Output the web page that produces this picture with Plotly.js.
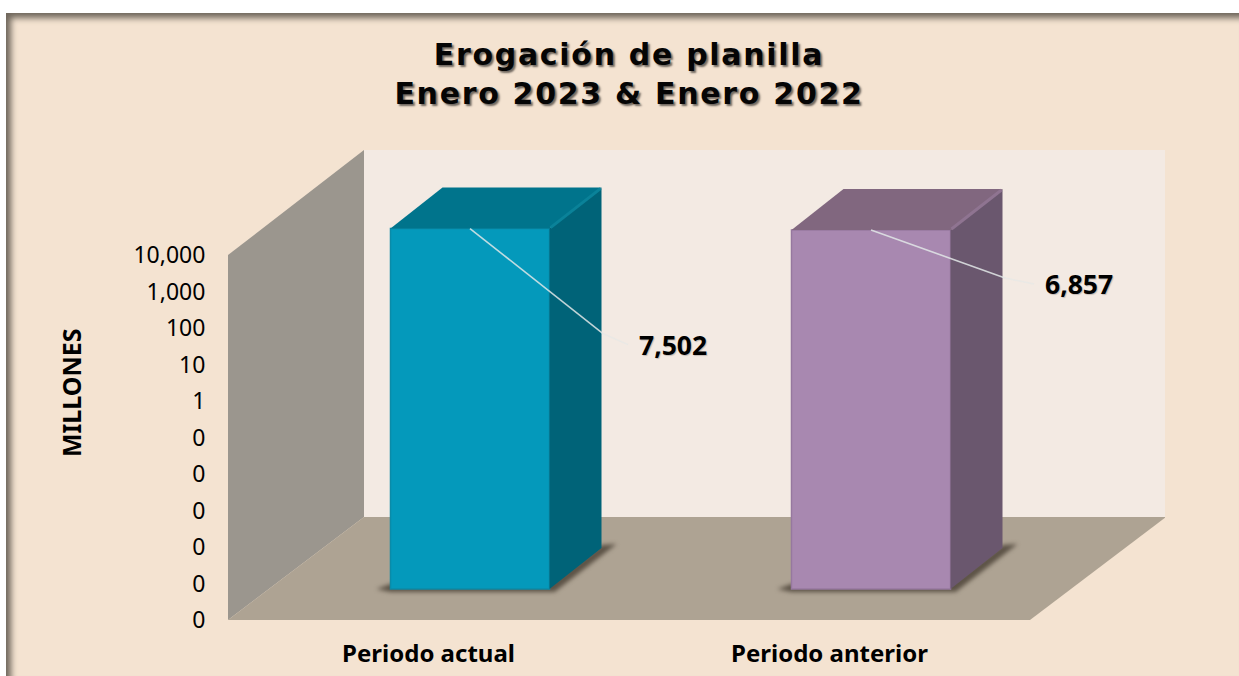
<!DOCTYPE html>
<html><head><meta charset="utf-8">
<script src="https://cdn.plot.ly/plotly-3.0.1.min.js"></script>
<style>
html,body{margin:0;padding:0;background:#fff;overflow:hidden}
#frame{position:absolute;left:6px;top:13px;width:1233px;height:663px;background:#F4E3D1;
 box-shadow:inset 6px 6px 6px -1px #6f675c;}
#plot{position:absolute;left:0;top:0;width:1239px;height:676px}
.gtitle{letter-spacing:1.7px}
.shapelayer > *:nth-child(n+4){filter:blur(2px)}
</style></head><body>
<div id="frame"></div><div id="plot"></div>
<script>
const categories = ['Periodo actual', 'Periodo anterior'];
const values = [7502, 6857];
const yTickValues = [1e-6, 1e-5, 1e-4, 1e-3, 1e-2, 1e-1, 1, 10, 100, 1000, 10000];
const yTickLabels = ['0', '0', '0', '0', '0', '0', '1', '10', '100', '1,000', '10,000'];
const frontColors = ['#0499BB', '#A888B0'];
const topColors = ['#00748C', '#81677F'];
const sideColors = ['#006378', '#6A576E'];
const edgeColors = ['#0B8BA8', '#96789F'];
const highlightColors = ['#0A8299', '#8F7491'];
const labelOffsets = [[167, 116], [172, 54]];
const leaderBends = [[133, 105], [134, 48]];

// px → axis units
const W = 1239, H = 676, L = 228, T = 150, B = 620, R = 1165;
const pxX = 1 / 401, pxY = 1 / 36.5;
const x0 = -0.5, y0 = -6;
const xRange = [x0, x0 + (R - L) * pxX], yRange = [y0, y0 + (B - T) * pxY];
const wallDx = 136 * pxX, wallDy = 103 * pxY, wallTopDy = 105 * pxY;
const frontDx = 41.5 * pxX, frontDy = 31 * pxY;
const barW = 159 * pxX, barDx = 52 * pxX, barDy = 41 * pxY;
const P = v => Math.pow(10, v);               // log-axis position → data value
const font = '"Noto Sans", sans-serif';

const path = pts => 'M' + pts.map(p => p[0] + ',' + P(p[1])).join('L') + 'Z';
const xEnd = x0 + 802 * pxX, yTop = 4;

const shapes = [
  {pts: [[x0 + wallDx, y0 + wallDy], [xEnd + wallDx, y0 + wallDy], [xEnd + wallDx, yTop + wallTopDy], [x0 + wallDx, yTop + wallTopDy]], c: '#F3EAE3'},
  {pts: [[x0, y0], [x0 + wallDx, y0 + wallDy], [x0 + wallDx, yTop + wallTopDy], [x0, yTop]], c: '#9B968E'},
  {pts: [[x0, y0], [xEnd, y0], [xEnd + wallDx, y0 + wallDy], [x0 + wallDx, y0 + wallDy]], c: '#AEA393'}
].map(s => ({type: 'path', xref: 'x', yref: 'y', layer: 'below', path: path(s.pts), fillcolor: s.c, line: {width: 0}}));

// soft floor shadow under each bar, derived from the bar's base position
categories.forEach((c, i) => {
  const xl = i + frontDx - barW / 2, yb = y0 + frontDy, xr = xl + barW;
  shapes.push({type: 'path', xref: 'x', yref: 'y', layer: 'below', opacity: 0.85, fillcolor: '#4d4438', line: {width: 0},
    path: path([
      [xl - 14 * pxX, yb], [xl, yb + 5 * pxY], [xr, yb + 5 * pxY], [xr + barDx, yb + barDy + 3 * pxY],
      [xr + barDx + 15 * pxX, yb + barDy + 4 * pxY], [xr + 5 * pxX, yb - 3 * pxY], [xl, yb - 3 * pxY]
    ])});
});

const traces = [{
  type: 'bar', x: categories.map((c, i) => i + frontDx),
  y: values.map(v => P(Math.log10(v) + frontDy) - P(y0 + frontDy)),
  base: categories.map(() => P(y0 + frontDy)), width: categories.map(() => barW),
  marker: {color: frontColors, line: {color: edgeColors, width: 1.5}}, hoverinfo: 'skip'
}];
const annotations = [];
values.forEach((v, i) => {
  const xl = i + frontDx - barW / 2, xr = xl + barW, yb = y0 + frontDy;
  const yt = Math.log10(v) + frontDy;
  const poly = (pts, color) => traces.push({type: 'scatter', mode: 'lines', x: pts.map(p => p[0]), y: pts.map(p => P(p[1])),
    fill: 'toself', fillcolor: color, line: {width: 0}, hoverinfo: 'skip', cliponaxis: false});
  poly([[xr, yb], [xr + barDx, yb + barDy], [xr + barDx, yt + barDy], [xr, yt]], sideColors[i]);
  poly([[xl, yt], [xr, yt], [xr + barDx, yt + barDy], [xl + barDx, yt + barDy]], topColors[i]);
  traces.push({type: 'scatter', mode: 'lines', x: [xr + 1 * pxX, xr + barDx - 1 * pxX], y: [P(yt + 1 * pxY), P(yt + barDy - 1 * pxY)],
    line: {color: highlightColors[i], width: 3}, hoverinfo: 'skip'});
  // leader line and label
  const cx = xl + barW / 2, off = labelOffsets[i], bend = leaderBends[i];
  const lx = cx + off[0] * pxX, ly = yt - off[1] * pxY;
  traces.push({type: 'scatter', mode: 'lines', x: [cx, cx + bend[0] * pxX], y: [P(yt), P(yt - bend[1] * pxY)],
    line: {color: 'rgba(226,232,232,0.85)', width: 1.6}, hoverinfo: 'skip'});
  traces.push({type: 'scatter', mode: 'lines', x: [cx + bend[0] * pxX, lx - 9 * pxX], y: [P(yt - bend[1] * pxY), P(ly)],
    line: {color: 'rgba(226,232,232,0.55)', width: 1.4}, hoverinfo: 'skip'});
  annotations.push({xref: 'x', yref: 'y', x: lx, y: ly, xanchor: 'left', yanchor: 'middle', showarrow: false,
    text: '<b>' + v.toLocaleString('en-US') + '</b>',
    font: {family: font, size: 26.5, color: '#000', shadow: '1px 1px 1px rgba(0,0,0,0.2)'}});
});
annotations.push({xref: 'paper', yref: 'paper', x: (71 - L) / (R - L), y: (B - 393) / (B - T), xanchor: 'center', yanchor: 'middle',
  showarrow: false, textangle: -90, text: '<b>MILLONES</b>', font: {family: font, size: 25, color: '#000'}});

const layout = {
  width: W, height: H, autosize: false, showlegend: false,
  paper_bgcolor: 'rgba(0,0,0,0)', plot_bgcolor: 'rgba(0,0,0,0)',
  margin: {l: L, r: W - R, t: T, b: H - B, pad: 0},
  barmode: 'overlay', shapes, annotations,
  title: {text: '<b>Erogación de planilla<br>Enero 2023 &amp; Enero 2022</b>', x: (629 - L) / (R - L), xanchor: 'center', xref: 'paper',
    y: 1 - 65 / H, yanchor: 'top',
    font: {family: '"DejaVu Sans", sans-serif', size: 30, color: '#050505', shadow: '2px 2px 2px rgba(0,0,0,0.55)'}},
  xaxis: {type: 'linear', range: xRange, tickmode: 'array', tickvals: categories.map((c, i) => i), ticktext: categories.map(c => '<b>' + c + '</b>'),
    showgrid: false, zeroline: false, showline: false, ticks: 'outside', ticklen: 12, tickcolor: 'rgba(0,0,0,0)',
    tickfont: {family: font, size: 24, color: '#000'}},
  yaxis: {type: 'log', range: yRange, tickmode: 'array', tickvals: yTickValues, ticktext: yTickLabels,
    showgrid: false, zeroline: false, showline: false, ticks: 'outside', ticklen: 17, tickcolor: 'rgba(0,0,0,0)',
    tickfont: {family: font, size: 23, color: '#000'}},
  font: {family: font}
};
Plotly.newPlot('plot', traces, layout, {staticPlot: true, displayModeBar: false});
</script></body></html>
